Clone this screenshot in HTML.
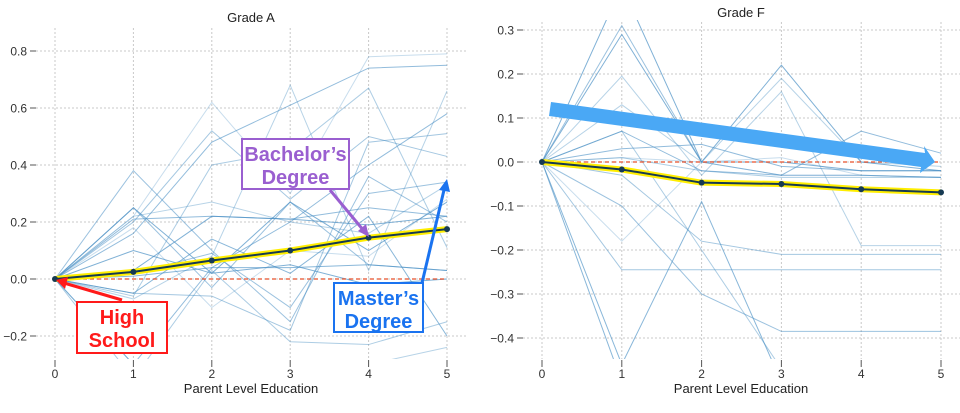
<!DOCTYPE html>
<html><head><meta charset="utf-8"><style>
html,body{margin:0;padding:0;background:#fff;width:960px;height:413px;overflow:hidden;font-family:"Liberation Sans",sans-serif}
svg{display:block;position:absolute;left:0;top:0}
</style></head><body>
<svg id="svg" width="960" height="413" viewBox="0 0 960 413">
<defs>
<clipPath id="clipA"><rect x="36" y="28" width="432" height="331"/></clipPath>
<clipPath id="clipF"><rect x="523" y="20" width="437" height="339"/></clipPath>
</defs>
</svg>
<script>
const xCats=[0,1,2,3,4,5];
const yTicksA=[-0.2,0,0.2,0.4,0.6,0.8];
const yTickLabelsA=["−0.2","0.0","0.2","0.4","0.6","0.8"];
const yTicksF=[-0.4,-0.3,-0.2,-0.1,0,0.1,0.2,0.3];
const yTickLabelsF=["−0.4","−0.3","−0.2","−0.1","0.0","0.1","0.2","0.3"];
const meanA=[0,0.025,0.065,0.1,0.145,0.175];
const meanF=[0,-0.017,-0.047,-0.05,-0.062,-0.069];
const linesA=[
[0,0.38,0.1,-0.15,0.36,0.2],
[0,0.25,0.02,0.27,0.1,0.27],
[0,0.22,0.27,0.2,0.16,0.33],
[0,0.16,0.48,0.61,0.74,0.75],
[0,0.22,0.62,0.3,0.78,0.79],
[0,0.2,0.52,0.28,0.5,0.43],
[0,-0.05,0.14,0.02,0.22,-0.2],
[0,-0.06,0.4,0.45,0.67,0.11],
[0,0.25,-0.03,0.27,0.05,0.03],
[0,0.03,0.22,0.21,0.19,0.22],
[0,-0.07,0.08,0.68,0.03,0.66],
[0,-0.3,0.04,0.2,0.4,0.58],
[0,0.18,-0.1,0.1,0.08,0.28],
[0,-0.05,-0.06,-0.18,0.48,0.51],
[0,0.01,0.04,0.04,0.05,0.03],
[0,-0.35,0.03,-0.22,-0.23,-0.15],
[0,0.02,0.09,-0.1,0.3,0.34],
[0,0.1,0.02,0.05,-0.02,0.0],
[0,-0.3,-0.3,-0.36,-0.3,-0.24],
[0,0.21,0.22,0.21,0.25,0.22]
];
const linesF=[
[0,0.31,0,-0.03,-0.03,-0.035],
[0,0.29,0.0,0.22,0.0,-0.02],
[0,0.195,-0.03,0.16,-0.19,-0.19],
[0,0.07,-0.02,-0.03,0.07,0.02],
[0,-0.18,0.0,-0.03,-0.03,-0.035],
[0,-0.245,-0.245,-0.245,-0.245,-0.245],
[0,-0.46,-0.09,-0.5,-0.5,-0.5],
[0,0.07,-0.2,-0.47,-0.5,-0.5],
[0,-0.1,-0.3,-0.385,-0.385,-0.385],
[0,0.4,0.0,0.0,-0.02,-0.02],
[0,0.13,0.0,0.19,0.0,-0.01],
[0,0.03,0.04,-0.01,-0.02,-0.02],
[0,0.01,0.0,0.01,-0.03,-0.035],
[0,-0.03,-0.18,-0.21,-0.21,-0.21],
[0,-0.5,-0.5,-0.5,-0.5,-0.5],
[0,0.01,-0.02,-0.035,-0.035,-0.035]
];
const NS="http://www.w3.org/2000/svg";
const svg=document.getElementById('svg');
function mk(tag,attrs,parent){const e=document.createElementNS(NS,tag);for(const k in attrs)e.setAttribute(k,attrs[k]);(parent||svg).appendChild(e);return e;}
function drawPanel(cfg){
  const g=mk('g',{});
  
  
  const xs=v=>cfg.x0+(cfg.x5-cfg.x0)*v/5;
  const ys=v=>cfg.yZero-(v)*cfg.pxPerUnit;
  cfg.yTicks.forEach((t,i)=>{
    const y=ys(t);
    const gl=mk('line',{x1:cfg.gx0,x2:cfg.gx1,y1:y,y2:y,stroke:'#c8c8c8','stroke-dasharray':'2,2','stroke-width':1},g);
    
    
    mk('line',{x1:cfg.gx0-6,x2:cfg.gx0,y1:y,y2:y,stroke:'#555','stroke-width':1},g);
    const tl=mk('text',{x:cfg.gx0-9,y:y+4.5,'text-anchor':'end','font-size':12,fill:'#333'},g);
    tl.textContent=cfg.yLabels[i];
    
    
  });
  xCats.forEach(c=>{
    const x=xs(c);
    const gl=mk('line',{x1:x,x2:x,y1:cfg.top,y2:cfg.bot,stroke:'#c8c8c8','stroke-dasharray':'2,2','stroke-width':1},g);
    
    
    mk('line',{x1:x,x2:x,y1:cfg.bot+1,y2:cfg.bot+8,stroke:'#555','stroke-width':1},g);
    const tl=mk('text',{x:x,y:cfg.bot+19,'text-anchor':'middle','font-size':12,fill:'#333'},g);
    tl.textContent=String(c);
    
    
  });
  const title=mk('text',{x:cfg.titleX,y:cfg.titleY,'text-anchor':'middle','font-size':13,fill:'#222'},g);
  title.textContent=cfg.title;
  
  
  const xt=mk('text',{x:cfg.titleX,y:cfg.bot+34,'text-anchor':'middle','font-size':13,fill:'#222'},g);
  xt.textContent='Parent Level Education';
  
  
  const pg=mk('g',{'clip-path':'url(#'+cfg.clip+')'},g);
  const ops=[0.55,0.7,0.4,0.6,0.3,0.5,0.65,0.45];
  cfg.lines.forEach((ln,i)=>{
    const p=mk('polyline',{points:ln.map((v,j)=>xs(xCats[j])+','+ys(v)).join(' '),fill:'none',stroke:'#4a90c4','stroke-opacity':ops[i%ops.length],'stroke-width':1},pg);
    
    
  });
  const zl=mk('line',{x1:xs(0),x2:xs(5),y1:ys(0),y2:ys(0),stroke:'#e8502a','stroke-dasharray':'4,3','stroke-width':1.2},pg);
  
  
  const pts=cfg.mean.map((v,j)=>xs(xCats[j])+','+ys(v)).join(' ');
  const hl=mk('polyline',{points:pts,fill:'none',stroke:'#ffee00','stroke-width':6,'stroke-linejoin':'round'},pg);
  
  
  const ml=mk('polyline',{points:pts,fill:'none',stroke:'#163a52','stroke-width':2},pg);
  
  
  cfg.mean.forEach((v,j)=>{
    const c=mk('circle',{cx:xs(xCats[j]),cy:ys(v),r:3,fill:'#163a52'},pg);
    
    
  });
}
drawPanel({name:'grade-a-chart',x0:55,x5:447,yZero:279,pxPerUnit:285,gx0:36,gx1:467,top:28,bot:359,
  yTicks:yTicksA,yLabels:yTickLabelsA,lines:linesA,mean:meanA,title:'Grade A',titleX:251,titleY:22,clip:'clipA'});
drawPanel({name:'grade-f-chart',x0:542,x5:941,yZero:162,pxPerUnit:440,gx0:523,gx1:960,top:22,bot:359,
  yTicks:yTicksF,yLabels:yTickLabelsF,lines:linesF,mean:meanF,title:'Grade F',titleX:741,titleY:17,clip:'clipF'});
</script>
<svg width="960" height="413">
  <polygon points="551,102 925,153 924,146 935,162 920,173 921,167 549,116" fill="#4aa8f5"/>
  <line x1="330" y1="190" x2="364" y2="231" stroke="#9a5fd0" stroke-width="3"/>
  <polygon points="369,237 358,231 366,224" fill="#9a5fd0"/>
  <g>
    <rect x="242" y="139" width="107" height="50" fill="#fff" stroke="#9a5fd0" stroke-width="2"/>
    <text x="295.5" y="161" text-anchor="middle" font-size="20" font-weight="bold" fill="#9a5fd0">Bachelor’s</text>
    <text x="295.5" y="184" text-anchor="middle" font-size="20" font-weight="bold" fill="#9a5fd0">Degree</text>
  </g>
  <line x1="122" y1="300" x2="64" y2="283" stroke="#ff1a1a" stroke-width="3"/>
  <polygon points="56,280 68,277 65,289" fill="#ff1a1a"/>
  <g>
    <rect x="77" y="302" width="90" height="51" fill="#fff" stroke="#ff1a1a" stroke-width="2"/>
    <text x="122" y="324" text-anchor="middle" font-size="20" font-weight="bold" fill="#ff1a1a">High</text>
    <text x="122" y="347" text-anchor="middle" font-size="20" font-weight="bold" fill="#ff1a1a">School</text>
  </g>
  <line x1="422" y1="283" x2="444" y2="190" stroke="#1a73f0" stroke-width="3"/>
  <polygon points="447,179 450,192 439,190" fill="#1a73f0"/>
  <g>
    <rect x="334" y="283" width="89" height="49" fill="#fff" stroke="#1a73f0" stroke-width="2"/>
    <text x="378.5" y="305" text-anchor="middle" font-size="20" font-weight="bold" fill="#1a73f0">Master’s</text>
    <text x="378.5" y="328" text-anchor="middle" font-size="20" font-weight="bold" fill="#1a73f0">Degree</text>
  </g>
</svg>
</body></html>
